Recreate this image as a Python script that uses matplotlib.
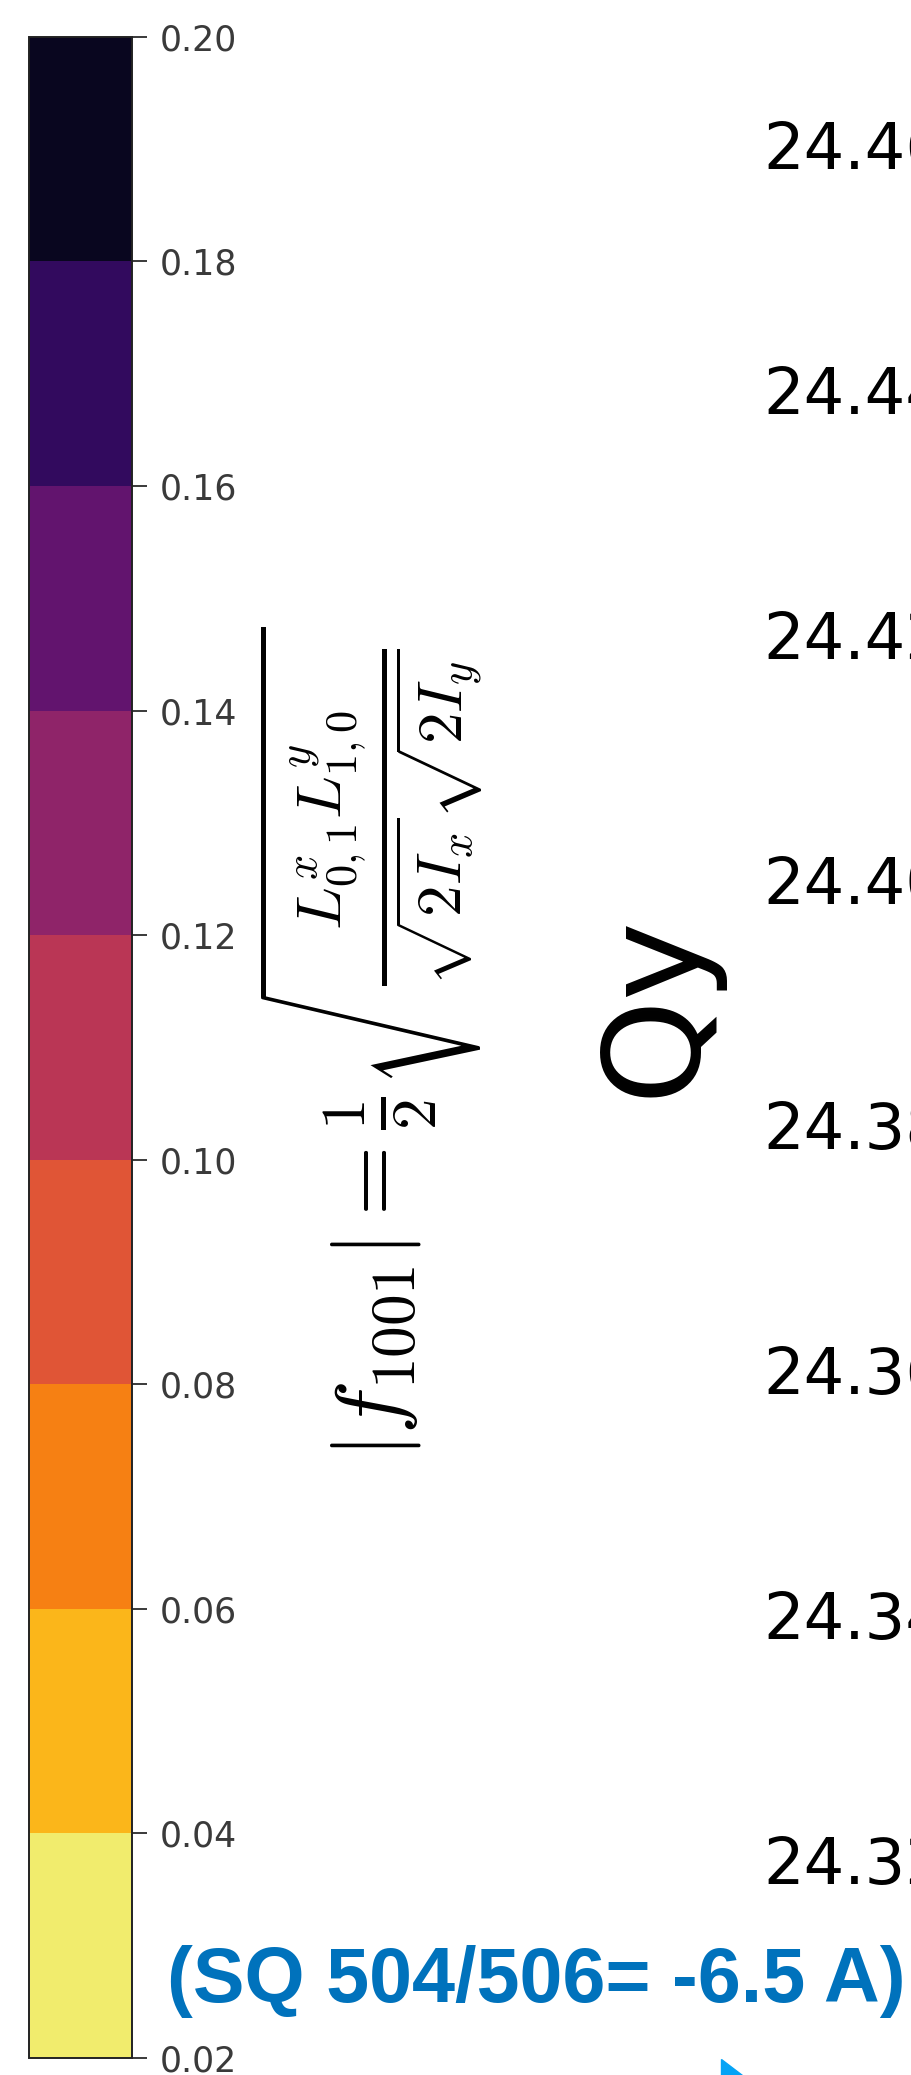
import numpy as np
import matplotlib
matplotlib.use("Agg")
import matplotlib.pyplot as plt
from matplotlib.colors import ListedColormap, BoundaryNorm
from matplotlib.cm import ScalarMappable
from matplotlib.patches import Polygon

# colorbar levels (|f1001|) and tune axis ticks
levels = [0.02, 0.04, 0.06, 0.08, 0.10, 0.12, 0.14, 0.16, 0.18, 0.20]
qy_ticks = [24.32, 24.34, 24.36, 24.38, 24.40, 24.42, 24.44, 24.46]
qy_lim = (24.3038, 24.4688)
note = "(SQ 504/506= -6.5 A)"

plt.rcParams['mathtext.fontset'] = 'cm'

fig = plt.figure(figsize=(9.12, 20.75), dpi=100)
fig.patch.set_facecolor('white')

# discrete inferno_r like contourf would give
n = len(levels) - 1
cmap = ListedColormap(plt.get_cmap('inferno_r')((np.arange(n) + 0.5) / n))
norm = BoundaryNorm(levels, n)

cax = fig.add_axes([0.0318, 0.0082, 0.1129, 0.974])
cb = fig.colorbar(ScalarMappable(norm=norm, cmap=cmap), cax=cax, ticks=levels, format='%.2f')
cb.outline.set_linewidth(1.4)
cb.outline.set_edgecolor('#222222')
cax.tick_params(labelsize=25, length=11, width=1.4, pad=9, colors='#3a3a3a')

# colorbar label
fig.text(371 / 912, 1 - 1042 / 2075,
         r'$|f_{1001}| = \frac{1}{2}\sqrt{\frac{L^x_{0,1}L^y_{1,0}}{\sqrt{2I_x}\sqrt{2I_y}}}$',
         rotation=90, ha='center', va='center', fontsize=65)

# main axes, mostly outside the visible crop
ax = fig.add_axes([1.048, 0.0082, 0.5, 0.974])
ax.set_ylim(*qy_lim)
ax.set_yticks(qy_ticks)
ax.set_yticklabels(['%.2f' % v for v in qy_ticks])
ax.tick_params(axis='y', labelsize=46)

fig.text(656 / 912, 1 - 1005 / 2075, 'Qy', rotation=90, ha='center', va='center',
         fontsize=96)

fig.text(167 / 912, 1 - 2002 / 2075, note, color='#0072BC', fontsize=55.7,
         fontweight='bold', family='Liberation Sans', ha='left', va='baseline')

# tip of the blue arrow at the bottom edge
tri = Polygon([[721 / 912, 1 - 2059 / 2075], [721 / 912, 0], [742 / 912, 0]],
              closed=True, transform=fig.transFigure, color='#05A3F5')
fig.patches.append(tri)

fig.savefig('out.png', dpi=100)
